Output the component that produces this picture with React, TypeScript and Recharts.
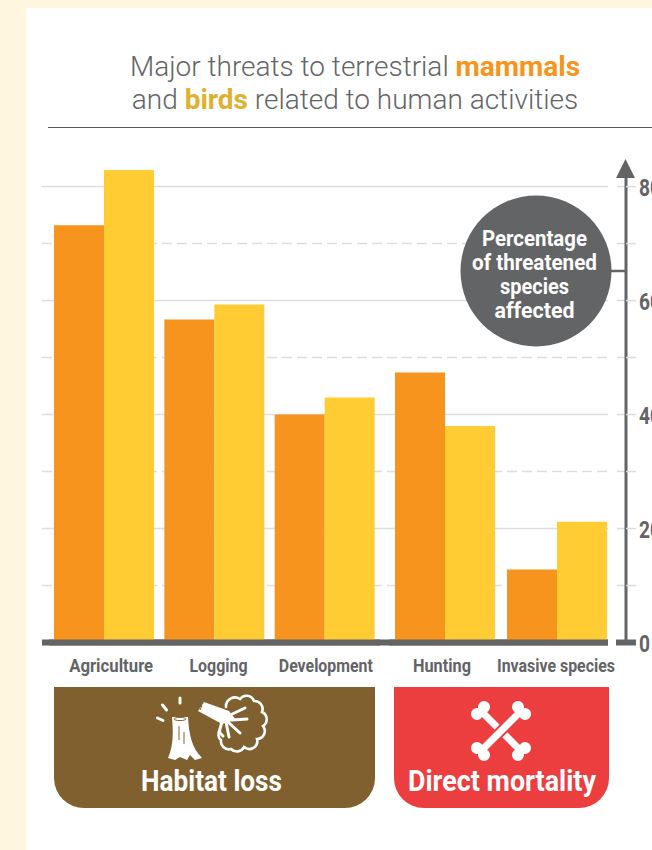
import { Bar, BarChart, CartesianGrid, XAxis, YAxis } from "recharts";

// Percentage of threatened species affected by each activity
const habitatLossThreats = ["Agriculture", "Logging", "Development"];
const habitatLossMammals = [73.2, 56.7, 40];
const habitatLossBirds = [82.9, 59.3, 43];

const directMortalityThreats = ["Hunting", "Invasive species"];
const directMortalityMammals = [47.4, 12.8];
const directMortalityBirds = [38, 21.2];

const axisTicks = [0, 10, 20, 30, 40, 50, 60, 70, 80];
const solidGridValues = [20, 40, 60, 80];
const dashedGridValues = [10, 30, 50, 70];
const calloutLines = ["Percentage", "of threatened", "species", "affected"];

// Condensed lettering: rendered width of each label, in pixels
const labelWidths: Record<string, number> = {
  Agriculture: 84,
  Logging: 58,
  Development: 94,
  Hunting: 58,
  "Invasive species": 118,
  Percentage: 105,
  "of threatened": 125,
  species: 69,
  affected: 80,
  "Habitat loss": 141,
  "Direct mortality": 188,
};
const labelNudges: Record<string, number> = {
  Agriculture: 7,
  Logging: 4,
  Development: 1,
  Hunting: -3,
  "Invasive species": -1,
};

const toRows = (threats: string[], mammals: number[], birds: number[]) =>
  threats.map((threat, i) => ({ threat, mammals: mammals[i], birds: birds[i] }));

const habitatLossRows = toRows(habitatLossThreats, habitatLossMammals, habitatLossBirds);
const directMortalityRows = toRows(directMortalityThreats, directMortalityMammals, directMortalityBirds);

const DOMAIN: [number, number] = [0, 83];
const PLOT_TOP = 169.5;
const PLOT_BOTTOM = 642.5;
const CHART_HEIGHT = 680;

const GREY = "#636466";
const GRID = "#dcddde";
const ORANGE = "#f7941d";
const YELLOW = "#ffcc33";
const BROWN = "#80602f";
const RED = "#ec3e3f";
const FONT = "Roboto, sans-serif";

// 566px of line up to the last bar, a gap, then the stub reaching the axis
const SOLID_GRID_DASH = "566 9 9 100";
const DASHED_GRID_DASH = `${"10 5 ".repeat(37)}10 10 9 100`;

function CondensedText({ label, size, ...rest }: any) {
  return (
    <text
      textAnchor="middle"
      fontFamily={FONT}
      fontWeight={700}
      fontSize={size}
      textLength={labelWidths[label]}
      lengthAdjust="spacingAndGlyphs"
      {...rest}
    >
      {label}
    </text>
  );
}

function ValueTick({ y, payload }: any) {
  const value = payload.value;
  return (
    <g>
      {value === 0 ? (
        <line x1={616} x2={636} y1={y} y2={y} stroke={GREY} strokeWidth={6} />
      ) : (
        <line x1={626} x2={636} y1={y} y2={y} stroke={GRID} strokeWidth={1.5} />
      )}
      {value % 20 === 0 && (
        <text
          x={639}
          y={y + 9}
          fill={GREY}
          fontFamily={FONT}
          fontWeight={700}
          fontSize={24}
          textLength={value === 0 ? 11 : 22}
          lengthAdjust="spacingAndGlyphs"
        >
          {value}
        </text>
      )}
    </g>
  );
}

function ThreatTick({ x, payload }: any) {
  return (
    <CondensedText
      label={payload.value}
      size={18.5}
      x={x + labelNudges[payload.value]}
      y={672}
      fill={GREY}
    />
  );
}

// Gridlines, baseline and the value axis sit under both groups of bars
function AxisFrame() {
  return (
    <BarChart
      width={652}
      height={CHART_HEIGHT}
      data={habitatLossRows}
      margin={{ top: PLOT_TOP, bottom: 0, left: 42, right: 0 }}
      style={{ position: "absolute", left: 0, top: 0 }}
    >
      <CartesianGrid
        vertical={false}
        horizontalValues={solidGridValues}
        stroke={GRID}
        strokeWidth={1.5}
        strokeDasharray={SOLID_GRID_DASH}
        syncWithTicks={false}
      />
      <CartesianGrid
        vertical={false}
        horizontalValues={dashedGridValues}
        stroke={GRID}
        strokeWidth={1.5}
        strokeDasharray={DASHED_GRID_DASH}
        syncWithTicks={false}
      />
      {/* unpainted series, it only gives the value axis something to scale */}
      <Bar dataKey="mammals" fill="none" isAnimationActive={false} />
      <XAxis
        dataKey="threat"
        height={CHART_HEIGHT - PLOT_BOTTOM}
        tick={false}
        tickLine={false}
        axisLine={{ stroke: GREY, strokeWidth: 6, strokeDasharray: "566 100" }}
      />
      <YAxis
        orientation="right"
        domain={DOMAIN}
        ticks={axisTicks}
        interval={0}
        width={26}
        tick={<ValueTick />}
        tickLine={false}
        axisLine={{ stroke: GREY, strokeWidth: 3 }}
      />
    </BarChart>
  );
}

function ThreatBars({
  rows,
  left,
  right,
  baselineDash,
}: {
  rows: typeof habitatLossRows;
  left: number;
  right: number;
  baselineDash?: string;
}) {
  return (
    <BarChart
      width={652}
      height={CHART_HEIGHT}
      data={rows}
      barSize={50}
      barGap={0}
      margin={{ top: PLOT_TOP, bottom: 0, left, right: 652 - right }}
      style={{ position: "absolute", left: 0, top: 0 }}
    >
      <YAxis hide domain={DOMAIN} />
      <Bar dataKey="mammals" fill={ORANGE} isAnimationActive={false} />
      <Bar dataKey="birds" fill={YELLOW} isAnimationActive={false} />
      <XAxis
        dataKey="threat"
        height={CHART_HEIGHT - PLOT_BOTTOM}
        interval={0}
        tick={<ThreatTick />}
        tickLine={false}
        axisLine={{ stroke: GREY, strokeWidth: 6, strokeDasharray: baselineDash }}
      />
    </BarChart>
  );
}

function AxisArrowAndCallout() {
  return (
    <svg
      width={652}
      height={CHART_HEIGHT}
      style={{ position: "absolute", left: 0, top: 0 }}
    >
      <polygon points="625.5,159 616,178 635,178" fill={GREY} />
      <line x1={600} x2={626} y1={271} y2={271} stroke={GREY} strokeWidth={2.5} />
      <circle cx={536} cy={271} r={75.5} fill={GREY} />
      {calloutLines.map((line, i) => (
        <CondensedText key={line} label={line} size={22} x={534.5} y={246 + i * 24} fill="#fff" />
      ))}
    </svg>
  );
}

function Bone({ angle }: { angle: number }) {
  return (
    <g transform={`translate(501 731) rotate(${angle})`} fill="#fff">
      <rect x={-28} y={-3.5} width={56} height={7} />
      <circle cx={-29} cy={-5} r={6} />
      <circle cx={-29} cy={5} r={6} />
      <circle cx={29} cy={-5} r={6} />
      <circle cx={29} cy={5} r={6} />
    </g>
  );
}

// Both icons and the panel titles are laid out in page coordinates
function GroupPanels() {
  return (
    <svg
      width={652}
      height={850}
      style={{ position: "absolute", left: 0, top: 0 }}
    >
      <path d="M54 687H375V778a30 30 0 0 1-30 30H84a30 30 0 0 1-30-30z" fill={BROWN} />
      <path d="M394 687H609V778a30 30 0 0 1-30 30H424a30 30 0 0 1-30-30z" fill={RED} />

      {/* felled tree next to its stump */}
      <g stroke="#fff" strokeLinecap="round" fill="none">
        <path d="M180 698v5M162.500 705l4 5M157.500 718l5.500 2.500" strokeWidth={3} />
        <path
          d="M226 707a9 9 0 0 1 14-8a8 8 0 0 1 14 2a8 8 0 0 1 8 11a8 8 0 0 1 1 14a8 8 0 0 1-6 13a8 8 0 0 1-13 8a8 8 0 0 1-13 2a8 8 0 0 1-10-9a6 6 0 0 1-1-9"
          strokeWidth={2.6}
        />
        <path d="M226 717l19-9M232 720l15-1M228 722l12 11M226 722l3 15M222 722l-3 10l4 4" strokeWidth={3} />
      </g>
      <path
        d="M172 717L188 717C189 735 192 748 202 758L195 760L190 755L187 760L180 757L175 760L168 758C174 745 173 730 172 717z"
        fill="#fff"
      />
      <path d="M198 711L204 702L229 711L236 720L222 724z" fill="#fff" />
      <g stroke={BROWN} strokeWidth={1} fill="none">
        <ellipse cx={180} cy={719} rx={6} ry={1.6} />
        <path d="M179 726v14M184 732v12M202 705l-2 5" />
      </g>

      {/* crossed bones, the upper one notched out of the lower */}
      <Bone angle={45} />
      <g transform="translate(501 731) rotate(-45)">
        <rect x={-12} y={-5.500} width={24} height={11} fill={RED} />
      </g>
      <Bone angle={-45} />

      <CondensedText label="Habitat loss" size={29.5} x={211.5} y={791} fill="#fff" />
      <CondensedText label="Direct mortality" size={29.5} x={502} y={791} fill="#fff" />
    </svg>
  );
}

export default function App() {
  return (
    <div
      style={{
        position: "absolute",
        left: 0,
        top: 0,
        width: 652,
        height: 850,
        overflow: "hidden",
        background: "#fff6e0",
      }}
    >
      <div style={{ position: "absolute", left: 26, top: 8, right: 0, bottom: 0, background: "#fff" }} />

      <div
        style={{
          position: "absolute",
          left: 55,
          width: 600,
          top: 50,
          textAlign: "center",
          fontFamily: FONT,
          fontWeight: 300,
          fontSize: 28,
          lineHeight: "33px",
          color: GREY,
        }}
      >
        Major threats to terrestrial <b style={{ color: ORANGE, fontWeight: 700 }}>mammals</b>
        <br />
        and <b style={{ color: "#e0b12f", fontWeight: 700 }}>birds</b> related to human activities
      </div>
      <div style={{ position: "absolute", left: 48, right: 0, top: 127, height: 1, background: "#58595b" }} />

      <AxisFrame />
      <ThreatBars rows={habitatLossRows} left={49} right={380} />
      <ThreatBars rows={directMortalityRows} left={389} right={613} baselineDash="219 100" />
      <AxisArrowAndCallout />
      <GroupPanels />
    </div>
  );
}
